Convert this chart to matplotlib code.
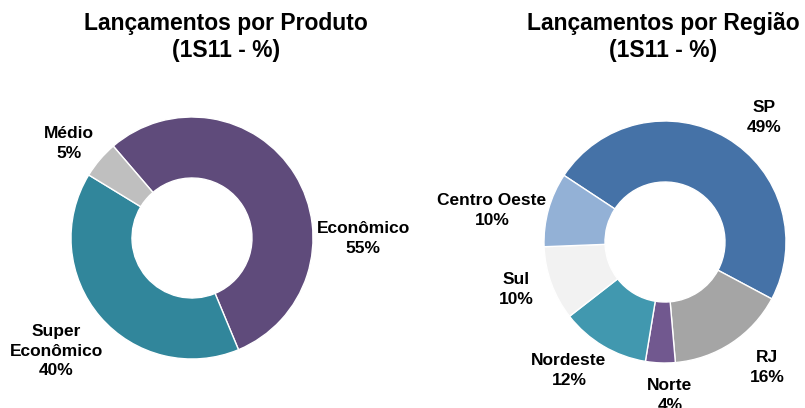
import matplotlib
matplotlib.use("Agg")
import matplotlib.pyplot as plt

plt.rcParams['font.family'] = ['Liberation Sans', 'DejaVu Sans']

# data
produto_labels = ['Econômico', 'Super\nEconômico', 'Médio']
produto_vals = [55, 40, 5]
produto_cores = ['#5F4B7B', '#31869B', '#BFBFBF']

regiao_labels = ['SP', 'RJ', 'Norte', 'Nordeste', 'Sul', 'Centro Oeste']
regiao_vals = [49, 16, 4, 12, 10, 10]
regiao_cores = ['#4572A7', '#A5A5A5', '#71588F', '#4198AF', '#F2F2F2', '#93B1D6']

W, H = 805, 408
fig = plt.figure(figsize=(W / 100, H / 100), dpi=100)
ax = fig.add_axes([0, 0, 1, 1])

# layout (pixel coords, y from top)
left_c, right_c = (192, 238), (665, 242)
r_out, r_w = 121, 61

def donut(vals, cores, c, start):
    ax.pie(vals, colors=cores, radius=r_out, center=(c[0], H - c[1]),
           startangle=start, counterclock=False, frame=True,
           wedgeprops=dict(width=r_w, edgecolor='white', linewidth=1))

donut(produto_vals, produto_cores, left_c, 130.6)
donut(regiao_vals, regiao_cores, right_c, 146.6)
ax.set_xlim(0, W)
ax.set_ylim(0, H)
ax.set_aspect('equal')
ax.axis('off')

# label positions (center x, y of first line)
produto_pos = [(363, 228), (56, 331), (69, 133)]
regiao_pos = [(764, 107), (767, 357), (670, 385), (569, 360), (516, 279), (492, 200)]

def rotulos(labels, vals, pos):
    for lab, v, (x, y) in zip(labels, vals, pos):
        ax.text(x, H - y + 7, f'{lab}\n{v}%', ha='center', va='top',
                fontsize=12.5, fontweight='bold', linespacing=1.38)

rotulos(produto_labels, produto_vals, produto_pos)
rotulos(regiao_labels, regiao_vals, regiao_pos)

ax.text(226, H - 37, 'Lançamentos por Produto\n(1S11 - %)', ha='center',
        va='center', fontsize=16.5, fontweight='bold', linespacing=1.25)
ax.text(663, H - 37, 'Lançamentos por Região\n(1S11 - %)', ha='center',
        va='center', fontsize=16.5, fontweight='bold', linespacing=1.25)

fig.savefig('out.png', dpi=100)
